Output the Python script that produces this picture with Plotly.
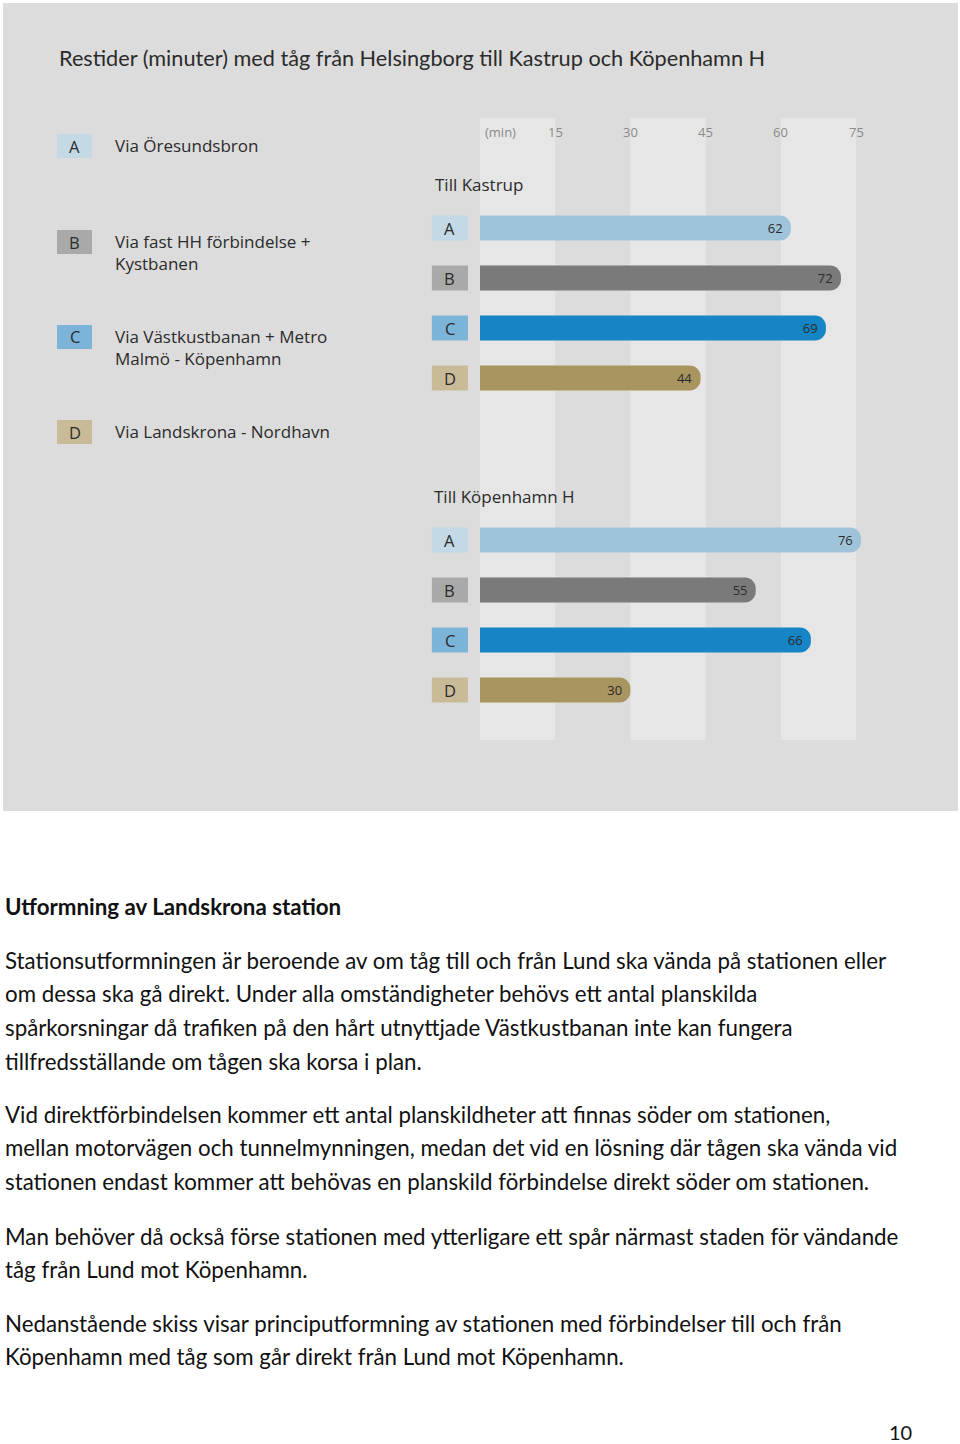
import plotly.graph_objects as go

# ---------------- data ----------------
routes = ["A", "B", "C", "D"]
route_names = ["Via Öresundsbron", "Via fast HH förbindelse +<br>Kystbanen",
               "Via Västkustbanan + Metro<br>Malmö - Köpenhamn", "Via Landskrona - Nordhavn"]
kastrup_min = [62, 72, 69, 44]
kopenhamn_min = [76, 55, 66, 30]
tick_vals = [15, 30, 45, 60, 75]
bar_colors = ["#9fc4da", "#7a7a7a", "#1585c5", "#a99560"]
box_colors = ["#c3d9e5", "#a9a9a9", "#7bb4d8", "#c9bb97"]

title = "Restider (minuter) med tåg från Helsingborg till Kastrup och Köpenhamn H"
heading = "Utformning av Landskrona station"
paragraphs = [
    ["Stationsutformningen är beroende av om tåg till och från Lund ska vända på stationen eller",
     "om dessa ska gå direkt. Under alla omständigheter behövs ett antal planskilda",
     "spårkorsningar då trafiken på den hårt utnyttjade Västkustbanan inte kan fungera",
     "tillfredsställande om tågen ska korsa i plan."],
    ["Vid direktförbindelsen kommer ett antal planskildheter att finnas söder om stationen,",
     "mellan motorvägen och tunnelmynningen, medan det vid en lösning där tågen ska vända vid",
     "stationen endast kommer att behövas en planskild förbindelse direkt söder om stationen."],
    ["Man behöver då också förse stationen med ytterligare ett spår närmast staden för vändande",
     "tåg från Lund mot Köpenhamn."],
    ["Nedanstående skiss visar principutformning av stationen med förbindelser till och från",
     "Köpenhamn med tåg som går direkt från Lund mot Köpenhamn."],
]
page_number = "10"

# ---------------- layout helpers ----------------
W, H = 960, 1444
def px(x): return x / W
def py(y): return 1 - y / H

CHART_FONT = "Open Sans"
BODY_FONT = "Lato"

fig = go.Figure()

for axis, vals in (("y", kastrup_min), ("y2", kopenhamn_min)):
    fig.add_trace(go.Bar(
        x=vals, y=routes, orientation="h", yaxis=axis, xaxis="x",
        marker=dict(color=bar_colors, cornerradius=11, line=dict(width=0)),
        width=0.5,
        text=[str(v) for v in vals], textposition="inside", insidetextanchor="end",
        textfont=dict(family=CHART_FONT, size=13, color="#2b2b2b"),
        textangle=0, cliponaxis=False, showlegend=False, hoverinfo="skip",
    ))

shapes = []
annotations = []

def note(x, y, text, size, color="#2b2b2b", family=CHART_FONT, xref="paper", yref="paper",
         xanchor="center", yanchor="middle", align="center"):
    annotations.append(dict(x=x, y=y, xref=xref, yref=yref, text=text, showarrow=False,
                            xanchor=xanchor, yanchor=yanchor, align=align,
                            font=dict(family=family, size=size, color=color)))

# gray panel
shapes.append(dict(type="rect", xref="paper", yref="paper", x0=px(3), x1=px(958),
                   y0=py(811), y1=py(3), fillcolor="#dcdcdc", line=dict(width=0), layer="below"))
# light stripes (0-15, 30-45, 60-75)
for lo, hi in ((0, 15), (30, 45), (60, 75)):
    shapes.append(dict(type="rect", xref="x", yref="paper", x0=lo, x1=hi,
                       y0=py(740), y1=py(118), fillcolor="#e6e6e6", line=dict(width=0), layer="below"))

# category boxes next to bars
for axis in ("y", "y2"):
    for i, r in enumerate(routes):
        shapes.append(dict(type="rect", xref="x", yref=axis, x0=-9.6, x1=-2.4,
                           y0=i - 0.25, y1=i + 0.25, fillcolor=box_colors[i], line=dict(width=0),
                           layer="below"))
        note(-6.0, r, r, 16.5, xref="x", yref=axis)

# left legend
legend_y = [146, 242, 337, 432]
for i, r in enumerate(routes):
    cy = legend_y[i]
    shapes.append(dict(type="rect", xref="paper", yref="paper", x0=px(57), x1=px(92),
                       y0=py(cy + 12), y1=py(cy - 12), fillcolor=box_colors[i], line=dict(width=0)))
    note(px(74.5), py(cy), r, 16.5)
    note(px(113), py(cy - 14), route_names[i], 17, xanchor="left", yanchor="top", align="left")

# title
note(px(57), py(58), title, 21.7, family=BODY_FONT, xanchor="left")
# axis tick labels (top)
note(px(500), py(132), "(min)", 13, color="#8a8a8a")
for t in tick_vals:
    note(t, py(132), str(t), 13, color="#8a8a8a", xref="x")
# group titles
note(px(433), py(184), "Till Kastrup", 17, xanchor="left")
note(px(432), py(496), "Till Köpenhamn H", 17, xanchor="left")

# body text
note(px(2.5), py(906), "<b>" + heading + "</b>", 22.3, color="#111111", family=BODY_FONT,
     xanchor="left")
para_starts = [960, 1114, 1236, 1323]
line_gap = 33.8
for p, start in zip(paragraphs, para_starts):
    for j, line in enumerate(p):
        note(px(2.5), py(start + j * line_gap), line, 22.3, color="#111111", family=BODY_FONT,
             xanchor="left")
note(px(900), py(1432), page_number, 20, color="#111111", family=BODY_FONT)

half = 480 * 75 / 376
fig.update_layout(
    width=W, height=H, margin=dict(l=0, r=0, t=0, b=0),
    paper_bgcolor="white", plot_bgcolor="rgba(0,0,0,0)",
    xaxis=dict(range=[-half, half], visible=False, domain=[0, 1], fixedrange=True),
    yaxis=dict(domain=[py(403), py(203)], range=[3.5, -0.5], visible=False,
               categoryorder="array", categoryarray=routes, anchor="x"),
    yaxis2=dict(domain=[py(715), py(515)], range=[3.5, -0.5], visible=False,
                categoryorder="array", categoryarray=routes, anchor="x"),
    shapes=shapes, annotations=annotations, bargap=0.5,
)

fig.write_html("out.html", config={"displayModeBar": False},
               post_script="document.body.style.margin='0';document.body.style.padding='0';"
                           "document.documentElement.style.overflow='hidden';")
